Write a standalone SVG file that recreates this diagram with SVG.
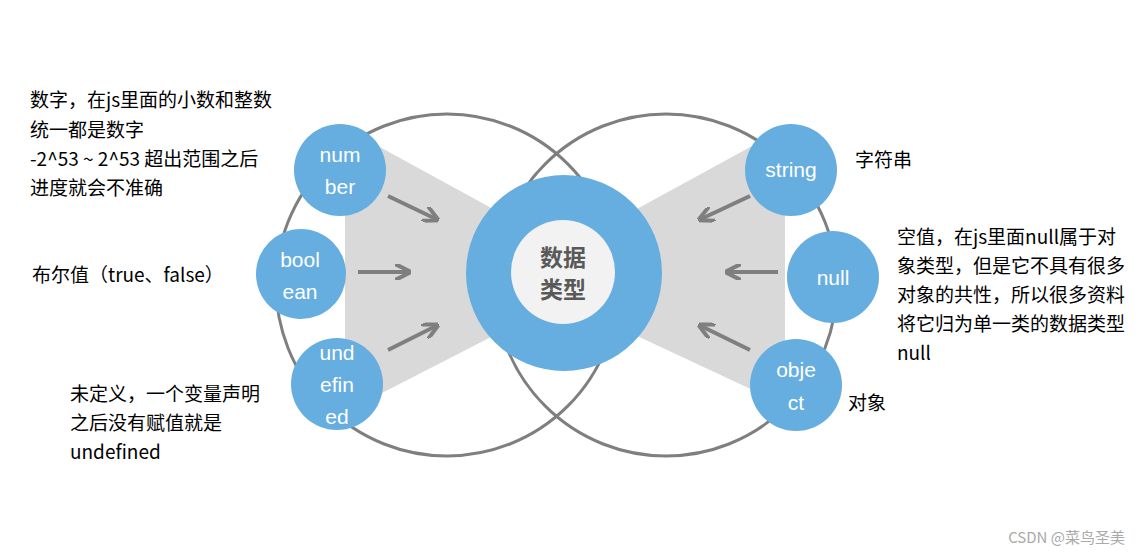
<svg xmlns="http://www.w3.org/2000/svg" width="1141" height="555" viewBox="0 0 1141 555">
<style>
.big{fill:none;stroke:#7f7f7f;stroke-width:3}
.node{fill:#66aee0}
.nt{font-family:"Liberation Sans",Arial,sans-serif;font-size:21px;fill:#fff;text-anchor:middle}
.lbl{font-family:"Noto Sans CJK SC",sans-serif;font-size:19px;fill:#000}
.arr{stroke:#7f7f7f;stroke-width:4;fill:none;marker-end:url(#ah)}
</style>
<defs>
<marker id="ah" viewBox="0 0 10 10" refX="8" refY="5" markerWidth="4" markerHeight="4" orient="auto"><path d="M0,0 L10,5 L0,10" fill="none" stroke="#7f7f7f" stroke-width="2.5"/></marker>
</defs>
<rect width="1141" height="555" fill="#fff"/>
<polygon points="345,128 495,210 495,335 345,412" fill="#d9d9d9"/>
<polygon points="785,128 635,210 635,335 785,405" fill="#d9d9d9"/>
<circle class="big" cx="447" cy="285" r="171"/>
<circle class="big" cx="666" cy="285" r="171"/>
<g id="center"><circle cx="564" cy="273" r="98" fill="#66aee0"/><circle cx="563" cy="272" r="52" fill="#f2f2f2"/>
<text x="563" y="266" text-anchor="middle" font-family="Noto Sans CJK SC,sans-serif" font-weight="bold" font-size="23" fill="#595959">数据</text>
<text x="563" y="298" text-anchor="middle" font-family="Noto Sans CJK SC,sans-serif" font-weight="bold" font-size="23" fill="#595959">类型</text></g>
<g id="number"><circle class="node" cx="340" cy="170" r="46"/><text class="nt" x="340" y="162">num</text><text class="nt" x="340" y="194">ber</text></g>
<g id="boolean"><circle class="node" cx="301" cy="274" r="45"/><text class="nt" x="300" y="267">bool</text><text class="nt" x="300" y="299">ean</text></g>
<g id="undefined"><circle class="node" cx="337" cy="384" r="46"/><text class="nt" x="337" y="360">und</text><text class="nt" x="337" y="392">efin</text><text class="nt" x="337" y="424">ed</text></g>
<g id="string"><circle class="node" cx="791" cy="170" r="46"/><text class="nt" x="791" y="177" font-size="17">string</text></g>
<g id="null"><circle class="node" cx="833" cy="277" r="46"/><text class="nt" x="833" y="285">null</text></g>
<g id="object"><circle class="node" cx="796" cy="385" r="46"/><text class="nt" x="796" y="377">obje</text><text class="nt" x="796" y="410">ct</text></g>
<g id="connectors">
<line class="arr" x1="388" y1="196" x2="436" y2="219"/>
<line class="arr" x1="358" y1="272" x2="408" y2="272"/>
<line class="arr" x1="388" y1="350" x2="436" y2="326"/>
<line class="arr" x1="750" y1="196" x2="701" y2="219"/>
<line class="arr" x1="778" y1="272" x2="728" y2="272"/>
<line class="arr" x1="750" y1="350" x2="701" y2="326"/>
</g>
<g class="lbl">
<text x="30" y="107">数字，在js里面的小数和整数</text>
<text x="30" y="137">统一都是数字</text>
<text x="30" y="166">-2^53 ~ 2^53 超出范围之后</text>
<text x="30" y="195">进度就会不准确</text>
<text x="32" y="282">布尔值（true、false）</text>
<text x="70" y="401">未定义，一个变量声明</text>
<text x="70" y="430">之后没有赋值就是</text>
<text x="70" y="459">undefined</text>
<text x="855" y="167">字符串</text>
<text x="897" y="244">空值，在js里面null属于对</text>
<text x="897" y="273">象类型，但是它不具有很多</text>
<text x="897" y="302">对象的共性，所以很多资料</text>
<text x="897" y="331">将它归为单一类的数据类型</text>
<text x="897" y="360">null</text>
<text x="848" y="410">对象</text>
</g>
<text x="1125" y="543" text-anchor="end" font-family="Noto Sans CJK SC,sans-serif" font-size="15" fill="#aaa">CSDN @菜鸟圣美</text>
</svg>
